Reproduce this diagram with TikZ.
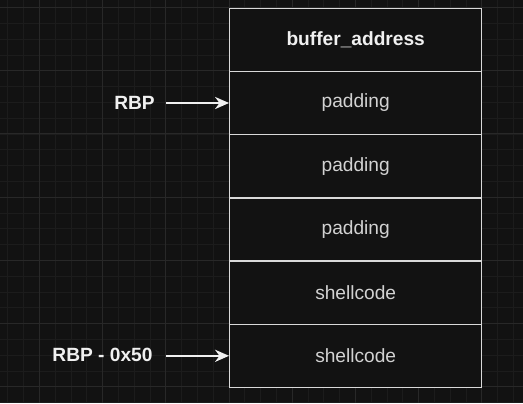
\documentclass[tikz,border=0pt]{standalone}
\usepackage{fontspec}
\setmainfont{Liberation Sans}
\usepackage{tikz}
\usetikzlibrary{positioning,arrows.meta}

\definecolor{bgdark}{HTML}{121212}
\definecolor{gridminor}{HTML}{1C1C1C}
\definecolor{gridmajor}{HTML}{282828}
\definecolor{linegray}{HTML}{D9D9D9}
\definecolor{textgray}{HTML}{D2D2D2}

\newcommand{\stackfont}{\fontsize{10.9}{13}\selectfont}

\tikzset{
  cell/.style={draw=linegray, line width=0.8pt, fill=bgdark, minimum width=252*0.02cm,
    minimum height=63.2*0.02cm, inner sep=0pt, text=textgray, font=\stackfont, anchor=north west},
  reglabel/.style={text=white!94!black, font=\stackfont\bfseries},
  pointer/.style={draw=white!94!black, line width=0.8pt, -{Stealth[length=8pt,width=7pt]}}
}

\begin{document}
\begin{tikzpicture}[x=0.02cm, y=-0.02cm]
\def \gap {15.8}
\def \boxleft {229}
\def \boxtop {7.5}
\def \rowh {63.2}

%background and grid
\fill[bgdark] (0,0) rectangle (523,403);
\useasboundingbox (0,0) rectangle (523,403);
\foreach \i in {0,...,33} {
  \draw[gridminor, line width=0.4pt] ({7.8+\i*\gap},0) -- ({7.8+\i*\gap},403);
}
\foreach \i in {0,...,25} {
  \draw[gridminor, line width=0.4pt] (0,{\boxtop+\i*\gap}) -- (523,{\boxtop+\i*\gap});
}
\foreach \i in {0,...,8} {
  \draw[gridmajor, line width=0.5pt] ({39.4+\i*\rowh},0) -- ({39.4+\i*\rowh},403);
}
\foreach \i in {0,...,6} {
  \draw[gridmajor, line width=0.5pt] (0,{\boxtop+\i*\rowh}) -- (523,{\boxtop+\i*\rowh});
}

%stack cells
\node[cell, text=white!94!black, font=\stackfont\bfseries] (addr) at (\boxleft,\boxtop) {buffer\_address};
\node[cell] (padone) at (\boxleft,{\boxtop+\rowh}) {padding};
\node[cell] (padtwo) at (\boxleft,{\boxtop+2*\rowh}) {padding};
\node[cell] (padthree) at (\boxleft,{\boxtop+3*\rowh}) {padding};
\node[cell] (shellone) at (\boxleft,{\boxtop+4*\rowh}) {shellcode};
\node[cell] (shelltwo) at (\boxleft,{\boxtop+5*\rowh}) {shellcode};

%register pointers
\node[reglabel] (rbp) at (134.5,102.5) {RBP};
\coordinate (rbptail) at ([xshift=-63*0.02cm]padone.west);
\draw[pointer] (rbptail) -- (padone.west);

\node[reglabel] (rbpoff) at (102.5,355) {RBP - 0x50};
\coordinate (rbpofftail) at ([xshift=-63*0.02cm]shelltwo.west);
\draw[pointer] (rbpofftail) -- (shelltwo.west);

\end{tikzpicture}
\end{document}
